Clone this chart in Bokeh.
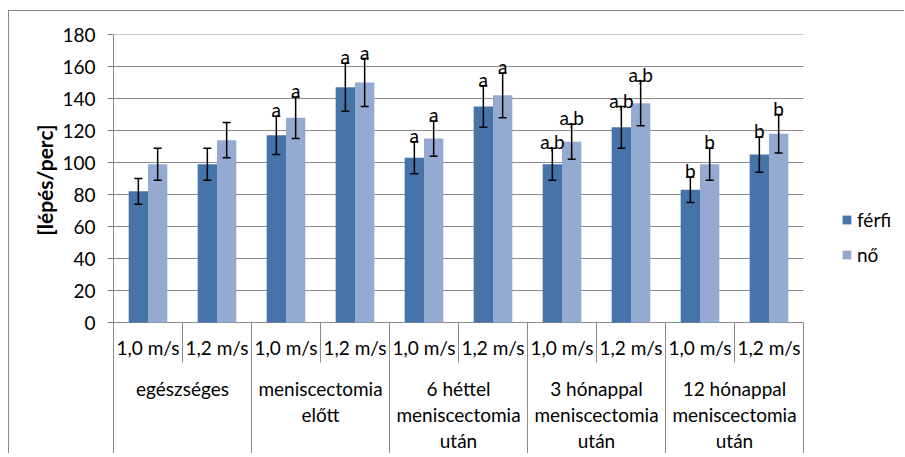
import numpy as np
from bokeh.plotting import figure
from bokeh.models import (ColumnDataSource, Range1d, FixedTicker, Whisker, TeeHead,
                          Legend, LegendItem, Title)
from bokeh.embed import file_html
from bokeh.resources import INLINE
from bokeh.core.properties import value

# ---------------- data ----------------
groups = ["egészséges",
          "meniscectomia\nelőtt",
          "6 héttel\nmeniscectomia\nután",
          "3 hónappal\nmeniscectomia\nután",
          "12 hónappal\nmeniscectomia\nután"]
speeds = ["1,0 m/s", "1,2 m/s"]
series = ["férfi", "nő"]
ferfi = [82, 99, 117, 147, 103, 135, 99, 122, 83, 105]
no = [99, 114, 128, 150, 115, 142, 113, 137, 99, 118]
ferfi_err = [8, 10, 12, 15, 10, 13, 10, 13, 8, 11]
no_err = [10, 11, 13, 15, 11, 14, 11, 14, 10, 12]
ferfi_sig = ["", "", "a", "a", "a", "a", "a,b", "a,b", "b", "b"]
no_sig = ["", "", "a", "a", "a", "a", "a,b", "a,b", "b", "b"]
y_ticks = [0, 20, 40, 60, 80, 100, 120, 140, 160, 180]
y_title = "[lépés/perc]"

# ---------------- style ----------------
FONT = "Lato"
FS = "19px"
DARK = "#4673a8"
LIGHT = "#95aad1"
GRAY = "#8a8a8a"

W, H = 896, 443
TOP, LEFT, BOTTOM = 23, 104, 0
CAT_PX = 69.0          # pixels per category
PX_PER_UNIT = 1.6      # pixels per y unit
frame_h = H - TOP - BOTTOM
frame_w = W - LEFT
y_end = 180.02
y_start = y_end - frame_h / PX_PER_UNIT

n = len(ferfi)
x_c = np.arange(n) + 0.5
BW = 0.28
xf = x_c - BW / 2
xn = x_c + BW / 2

p = figure(width=W, height=H, output_backend="svg", toolbar_location=None,
           x_range=Range1d(0, frame_w / CAT_PX), y_range=Range1d(y_start, y_end),
           x_axis_type=None, min_border_top=TOP, min_border_left=LEFT,
           min_border_bottom=BOTTOM, min_border_right=0)
p.outline_line_color = None
p.background_fill_color = "white"
p.border_fill_color = "white"
p.styles = {"position": "absolute", "left": "8px", "top": "10px",
            "border-left": "1px solid " + GRAY, "border-top": "1px solid " + GRAY}

# y axis
p.xgrid.visible = False
p.ygrid.visible = False
ya = p.yaxis[0]
ya.ticker = FixedTicker(ticks=y_ticks)
ya.axis_line_color = GRAY
ya.major_tick_line_color = GRAY
ya.major_tick_out = 6
ya.major_tick_in = 0
ya.minor_tick_line_color = None
ya.major_label_text_font = FONT
ya.major_label_text_font_size = FS
ya.major_label_text_color = "black"
ya.major_label_standoff = 12

# horizontal gridlines limited to the category area
p.segment(x0=[0] * len(y_ticks), x1=[n] * len(y_ticks), y0=y_ticks, y1=y_ticks,
          line_color=GRAY, line_width=1)

# y title (left side panel, outside the axis)
p.add_layout(Title(text=y_title, align="right", offset=90, standoff=6,
                   text_font=FONT, text_font_size="21px", text_font_style="bold",
                   text_color="black"), "left")

# bars
rf = p.vbar(x=xf, top=ferfi, width=BW, bottom=0, fill_color=DARK, line_color=None)
rn = p.vbar(x=xn, top=no, width=BW, bottom=0, fill_color=LIGHT, line_color=None)

# error bars
err_src = ColumnDataSource(dict(
    x=np.concatenate([xf, xn]),
    upper=np.concatenate([np.array(ferfi) + np.array(ferfi_err), np.array(no) + np.array(no_err)]),
    lower=np.concatenate([np.array(ferfi) - np.array(ferfi_err), np.array(no) - np.array(no_err)]),
))
whisk = Whisker(source=err_src, base="x", upper="upper", lower="lower", dimension="height",
                line_color="black", line_width=1.5, level="overlay",
                upper_head=TeeHead(size=8, line_color="black", line_width=1.5),
                lower_head=TeeHead(size=8, line_color="black", line_width=1.5))
p.add_layout(whisk)

# significance labels
lab_x, lab_y, lab_t = [], [], []
for xs, vals, errs, sig in ((xf, ferfi, ferfi_err, ferfi_sig), (xn, no, no_err, no_sig)):
    for i in range(n):
        if sig[i]:
            lab_x.append(xs[i])
            lab_y.append(vals[i] + errs[i] + 4)
            lab_t.append(sig[i])
p.text(x=lab_x, y=lab_y, text=lab_t, text_font=value(FONT), text_font_size=value(FS),
       text_align="center", text_baseline="alphabetic", text_color="black")

# category table below the axis
sep_x, sep_y1 = [], []
for b in range(1, n + 1):
    sep_x.append(b)
    sep_y1.append(y_start if b % 2 == 0 else -25)
p.segment(x0=sep_x, y0=[0] * len(sep_x), x1=sep_x, y1=sep_y1, line_color=GRAY, line_width=1)

p.text(x=x_c, y=[-15.6] * n, text=[speeds[i % 2] for i in range(n)],
       text_font=value(FONT), text_font_size=value(FS), text_align="center",
       text_baseline="middle", text_color="black")
p.text(x=[2 * g + 1 for g in range(len(groups))], y=[-34.25] * len(groups), text=groups,
       text_font=value(FONT), text_font_size=value(FS), text_align="center",
       text_baseline="top", text_color="black", text_line_height=1.12)

# legend (inside the frame, right of the category area)
legend = Legend(items=[LegendItem(label=series[0], renderers=[rf]),
                       LegendItem(label=series[1], renderers=[rn])],
                location=(728, 188), orientation="vertical",
                label_text_font=FONT, label_text_font_size=FS, label_text_color="black",
                glyph_width=11, glyph_height=11, label_standoff=5, label_height=22,
                spacing=12, padding=0, margin=0, border_line_color=None,
                background_fill_color=None)
p.add_layout(legend)

open("out.html", "w").write(file_html(p, INLINE))
